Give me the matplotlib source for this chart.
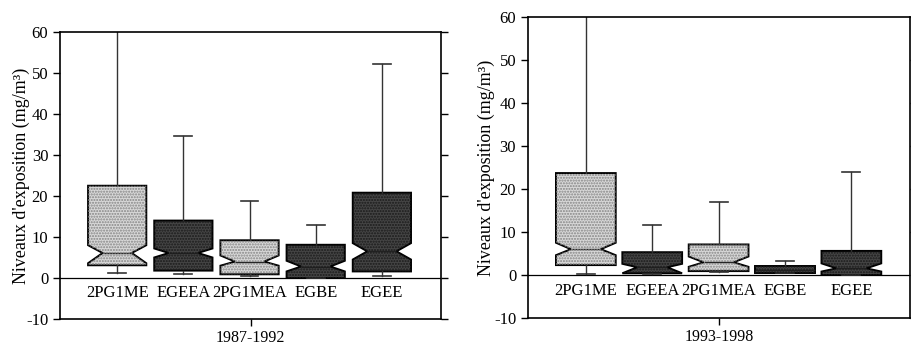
import matplotlib.pyplot as plt
from matplotlib.patches import PathPatch

plt.rcParams['font.family'] = ['Liberation Serif', 'DejaVu Serif']
plt.rcParams['axes.unicode_minus'] = False

categories = ["2PG1ME", "EGEEA", "2PG1MEA", "EGBE", "EGEE"]
shades = ["light", "dark", "light", "dark", "dark"]

# 1987-1992
p1_whislo = [1.3, 0.9, 0.4, 0.0, 0.6]
p1_q1 = [3.1, 1.8, 0.9, 0.0, 1.6]
p1_cilo = [3.6, 5.0, 3.0, 1.6, 4.5]
p1_med = [6.1, 6.1, 4.0, 2.8, 6.5]
p1_cihi = [8.0, 7.2, 5.5, 4.2, 8.5]
p1_q3 = [22.5, 14.0, 9.2, 8.1, 20.8]
p1_whishi = [75.0, 34.6, 18.8, 12.9, 52.1]

# 1993-1998
p2_whislo = [0.2, 0.3, 0.6, 0.4, 0.0]
p2_q1 = [2.3, 0.4, 0.9, 0.4, 0.0]
p2_cilo = [4.6, 0.4, 1.9, None, 0.8]
p2_med = [6.0, 1.8, 2.95, 1.2, 1.55]
p2_cihi = [7.5, 2.6, 4.3, None, 2.7]
p2_q3 = [23.7, 5.3, 7.1, 2.1, 5.6]
p2_whishi = [75.0, 11.6, 16.9, 3.3, 23.9]

periods = ["1987-1992", "1993-1998"]

fill = {"light": "#d8d8d8", "dark": "#454545"}
dots = {"light": "#858585", "dark": "#1a1a1a"}


def draw_panel(ax, whislo, q1, cilo, med, cihi, q3, whishi, period, xlim, width, lpad):
    ax.axhline(0, color="black", lw=0.9, zorder=1)
    for i in range(len(categories)):
        notched = cilo[i] is not None
        st = {"whislo": whislo[i], "q1": q1[i], "med": med[i], "q3": q3[i],
              "whishi": whishi[i], "fliers": []}
        if notched:
            st["cilo"] = cilo[i]
            st["cihi"] = cihi[i]
        res = ax.bxp([st], positions=[i + 1], widths=width, shownotches=notched,
                     patch_artist=True, showfliers=False, manage_ticks=False,
                     capwidths=0.27,
                     boxprops=dict(facecolor=fill[shades[i]], edgecolor="black", lw=1.4),
                     whiskerprops=dict(color="#333333", lw=1.0),
                     capprops=dict(color="#333333", lw=1.2),
                     medianprops=dict(color="#222222", lw=1.0))
        box = res["boxes"][0]
        ax.add_patch(PathPatch(box.get_path(), facecolor="none", edgecolor=dots[shades[i]],
                               hatch="......", lw=0, zorder=box.get_zorder() + 0.1))
        ax.text(i + 1, -3.7, categories[i], ha="center", va="center", fontsize=12)
    ax.set_xlim(*xlim)
    ax.set_ylim(-10, 60)
    ax.set_yticks(range(-10, 61, 10))
    ax.set_xticks([(xlim[0] + xlim[1]) / 2])
    ax.set_xticklabels([period])
    ax.tick_params(axis="y", direction="out", length=5, labelsize=12, right=True, width=1)
    ax.tick_params(axis="x", direction="out", length=5, labelsize=11.5, pad=3, width=1)
    ax.set_ylabel("Niveaux d'exposition (mg/m³)", fontsize=13, labelpad=lpad)
    for s in ax.spines.values():
        s.set_linewidth(1.2)


fig = plt.figure(figsize=(9.12, 3.45), dpi=100)
ax1 = fig.add_axes([0.0658, 0.0754, 0.4178, 0.8319])
ax2 = fig.add_axes([0.5789, 0.0783, 0.4189, 0.8725])

draw_panel(ax1, p1_whislo, p1_q1, p1_cilo, p1_med, p1_cihi, p1_q3, p1_whishi,
           periods[0], (0.136, 5.894), 0.88, -3)
draw_panel(ax2, p2_whislo, p2_q1, p2_cilo, p2_med, p2_cihi, p2_q3, p2_whishi,
           periods[1], (0.128, 5.883), 0.9, -1)

fig.savefig("out.png", dpi=100)
